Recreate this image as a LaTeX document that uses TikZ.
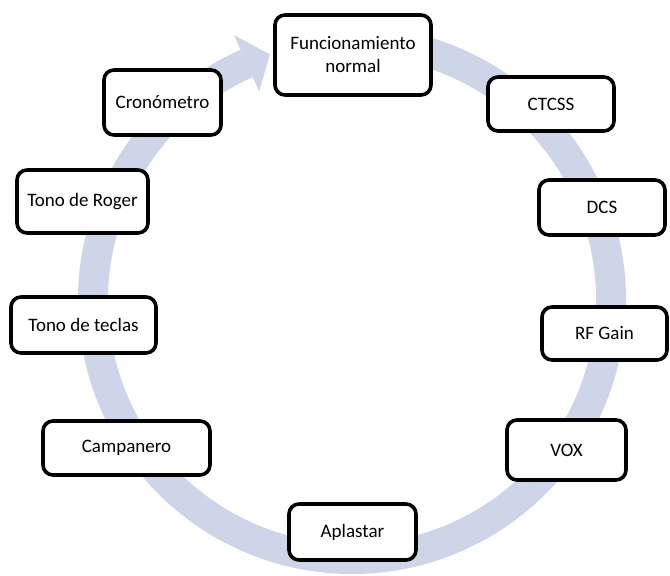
\documentclass[tikz,border=0pt]{standalone}
\usepackage{fontspec}
\setmainfont{Carlito}
\usetikzlibrary{calc}
\definecolor{bandcol}{RGB}{206,213,232}
\tikzset{
  stagebox/.style={draw=black, fill=white, line width=3.6pt, rounded corners=10pt,
    inner sep=0pt, align=center, font=\fontsize{19}{23}\selectfont},
  band/.style={draw=bandcol, line width=30pt}
}
\begin{document}
\begin{tikzpicture}[x=1pt,y=1pt]
\useasboundingbox (0,0) rectangle (670,-576);
\coordinate (C) at (352,-300);
% circular arrow
\draw[band] ($(C)+(114:259)$) arc[start angle=114, end angle=440, radius=259pt];
\fill[bandcol] ($(C)+(114:290)$) -- ($(C)+(108.5:259)$) -- ($(C)+(114:228)$) -- cycle;
% stages
\node[stagebox, minimum width=156pt, minimum height=80pt] (fn) at (353,-55) {Funcionamiento\\normal};
\node[stagebox, minimum width=126pt, minimum height=54pt] (ct) at (551,-104) {CTCSS};
\node[stagebox, minimum width=126pt, minimum height=55pt] (dc) at (602,-207.5) {DCS};
\node[stagebox, minimum width=125pt, minimum height=53pt] (rf) at (604.5,-333.5) {RF Gain};
\node[stagebox, minimum width=119pt, minimum height=60pt] (vo) at (566.5,-450) {VOX};
\node[stagebox, minimum width=127pt, minimum height=56pt] (ap) at (352.5,-532) {Aplastar};
\node[stagebox, minimum width=167pt, minimum height=54pt] (ca) at (126.5,-448) {Campanero};
\node[stagebox, minimum width=145pt, minimum height=56pt] (tt) at (83.5,-325) {Tono de teclas};
\node[stagebox, minimum width=131pt, minimum height=63pt] (tr) at (82.5,-201.5) {Tono de Roger};
\node[stagebox, minimum width=117pt, minimum height=65pt] (cr) at (162.5,-102.5) {Cronómetro};
\end{tikzpicture}
\end{document}
